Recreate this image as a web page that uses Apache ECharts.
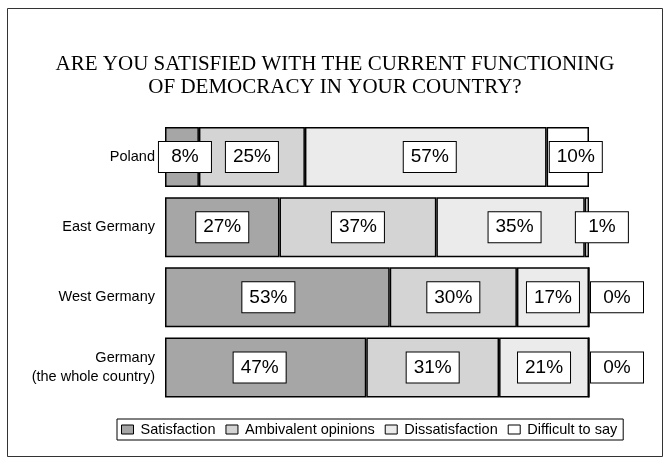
<!DOCTYPE html>
<html>
<head>
<meta charset="utf-8">
<script src="https://cdn.jsdelivr.net/npm/echarts@6/dist/echarts.min.js"></script>
<style>
html,body{margin:0;padding:0;background:#fff;}
#main{width:670px;height:462px;}
</style>
</head>
<body>
<div id="main"></div>
<script>
const titleText = 'ARE YOU SATISFIED WITH THE CURRENT FUNCTIONING\nOF DEMOCRACY IN YOUR COUNTRY?';
const categories = ['Poland', 'East Germany', 'West Germany', 'Germany\n(the whole country)'];
const seriesNames = ['Satisfaction', 'Ambivalent opinions', 'Dissatisfaction', 'Difficult to say'];
const satisfaction = [8, 27, 53, 47];
const ambivalent = [25, 37, 30, 31];
const dissatisfaction = [57, 35, 17, 21];
const difficult = [10, 1, 0, 0];

// styling only: horizontal label nudges (px) per series / category
const colors = ['#a6a6a6', '#d4d4d4', '#ebebeb', '#ffffff'];
const labelShift = [
  [3, 0, -9, -6],
  [0, 0, 0, 0],
  [4, 4, 0, 0],
  [8, 15, 0, 0]
];
const zeroLabelShift = 28;

const values = [satisfaction, ambivalent, dissatisfaction, difficult];
const rowTotals = categories.map((c, i) => values.reduce((s, arr) => s + arr[i], 0));

const series = values.map((arr, si) => ({
  name: seriesNames[si],
  type: 'bar',
  stack: 'total',
  barWidth: 60,
  itemStyle: { color: colors[si], borderColor: '#000', borderWidth: 1.5 },
  data: arr.map((v, i) => ({
    value: v / rowTotals[i] * 100,
    raw: v,
    label: { offset: [v === 0 ? zeroLabelShift : labelShift[si][i], 0] }
  })),
  label: {
    show: true,
    position: 'inside',
    formatter: p => p.data.raw + '%',
    fontFamily: 'Liberation Sans',
    fontSize: 19,
    color: '#000',
    backgroundColor: '#fff',
    borderColor: '#000',
    borderWidth: 1,
    width: 38,
    align: 'center',
    padding: [6, 7, 5, 7]
  }
}));

const chart = echarts.init(document.getElementById('main'), null, { renderer: 'canvas' });
chart.setOption({
  animation: false,
  backgroundColor: '#fff',
  title: {
    text: titleText,
    left: 'center',
    top: 48,
    textStyle: { fontFamily: 'Liberation Serif', fontSize: 21, fontWeight: 'normal', lineHeight: 23, color: '#000', align: 'center' }
  },
  graphic: [{
    type: 'rect', shape: { x: 7.5, y: 8.5, width: 655, height: 448 },
    style: { fill: 'none', stroke: '#333', lineWidth: 1 }, silent: true, z: -1
  }],
  legend: {
    data: seriesNames,
    left: 117,
    top: 419,
    icon: 'rect',
    itemWidth: 12,
    itemHeight: 9,
    itemGap: 10,
    padding: [3, 6, 3, 4],
    borderColor: '#000',
    borderWidth: 1,
    borderRadius: 0,
    itemStyle: { borderColor: '#000', borderWidth: 1 },
    textStyle: { fontFamily: 'Liberation Sans', fontSize: 14.5, color: '#000', padding: [0, 0, 0, 2] },
    selectedMode: false
  },
  grid: { left: 165, right: 81, top: 122, bottom: 59.5, containLabel: false },
  xAxis: { type: 'value', min: 0, max: 100, show: false },
  yAxis: {
    type: 'category', data: categories, inverse: true,
    axisLine: { show: false }, axisTick: { show: false }, splitLine: { show: false },
    axisLabel: { fontFamily: 'Liberation Sans', fontSize: 14.5, color: '#000', margin: 10, lineHeight: 19, align: 'right' }
  },
  series: series
});
</script>
</body>
</html>
